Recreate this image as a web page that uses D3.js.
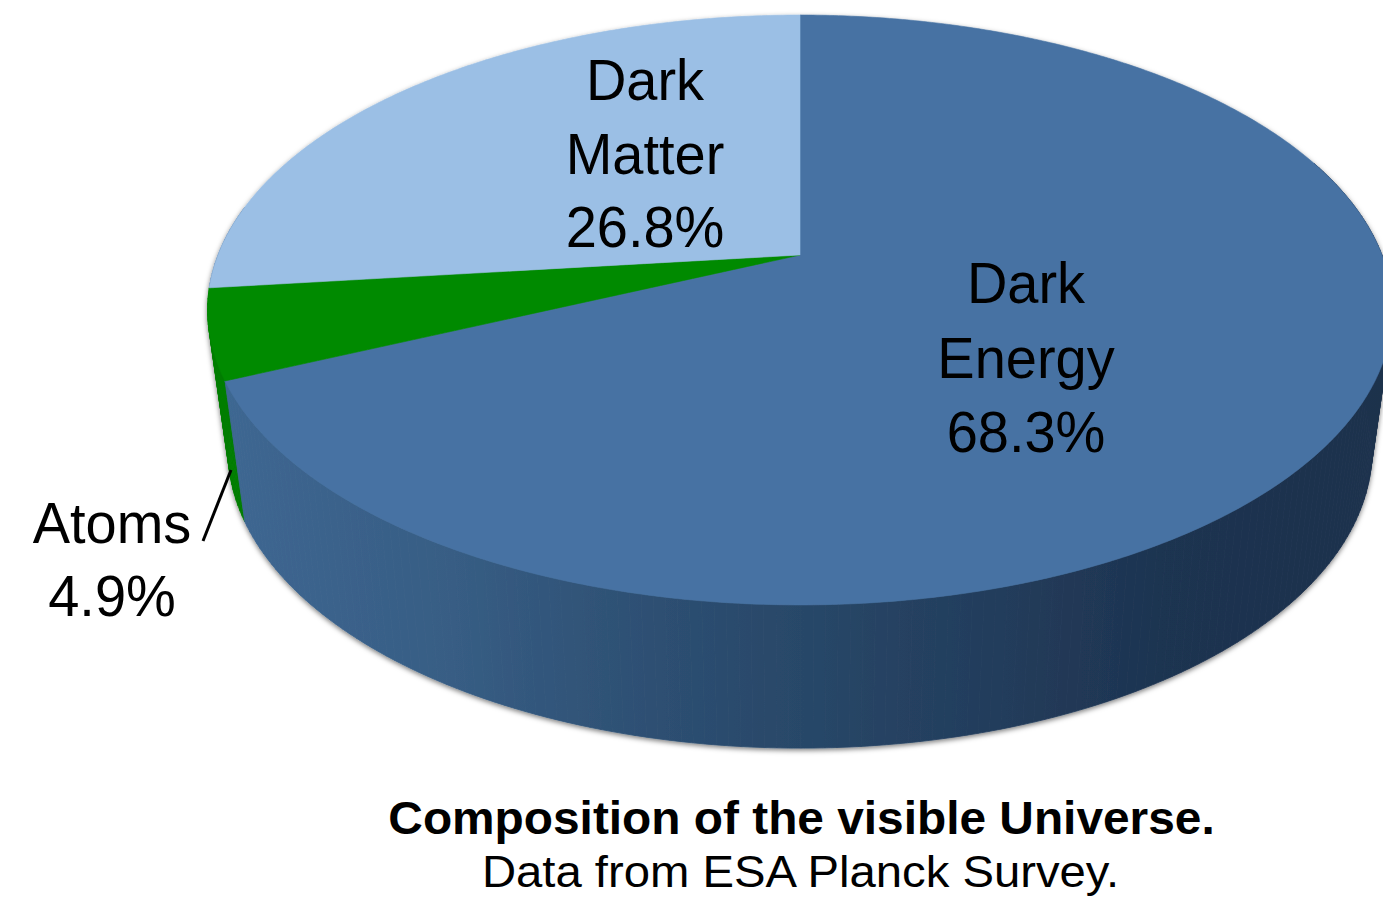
<!DOCTYPE html>
<html>
<head>
<meta charset="utf-8">
<script src="https://cdn.jsdelivr.net/npm/d3@7"></script>
<style>
  html, body { margin: 0; padding: 0; background: #fff; }
  svg { display: block; }
  text { font-family: "Liberation Sans", Arial, Helvetica, sans-serif; fill: #000; }
</style>
</head>
<body>
<svg id="chart" width="1383" height="901"></svg>
<script>
// Composition of the Universe (Planck)
const categories = ["Dark Energy", "Atoms", "Dark Matter"];
const shares = [68.3, 4.9, 26.8];
const topColors = ["#4672a3", "#008a00", "#9bbfe5"];
const titleText = "Composition of the visible Universe.";
const subtitleText = "Data from ESA Planck Survey.";

const svg = d3.select("#chart");
const defs = svg.append("defs");

// Perspective model of the disc: top face and bottom face of the cylinder
const topFace = { cx: 800, cy: 255, a: 582, b: 284.7, k: -0.1864 };
const botFace = { cx: 800, cy: 394.5, a: 562, b: 287.7, k: -0.1864 };

function project(face, theta) {
  const u = Math.sin(theta), v = -Math.cos(theta);
  const w = 1 + face.k * v;
  return [face.cx + face.a * u / w, face.cy + face.b * v / w];
}
function arcPoints(face, a0, a1) {
  const n = Math.max(2, Math.ceil(Math.abs(a1 - a0) / (Math.PI / 360)));
  return d3.range(n + 1).map(i => project(face, a0 + (a1 - a0) * i / n));
}

const data = categories.map((c, i) => ({ name: c, value: shares[i], color: topColors[i] }));
const arcs = d3.pie().sort(null).value(d => d.value)(data);

// side gradient: lighter on the left, dark navy on the right
const grad = defs.append("linearGradient")
  .attr("id", "sideGrad").attr("gradientUnits", "userSpaceOnUse")
  .attr("x1", 220).attr("y1", 0).attr("x2", 1390).attr("y2", 0);
[[0, "#3e6792"], [0.2, "#375d84"], [0.33, "#2f5276"], [0.5, "#284768"],
 [0.67, "#223c5b"], [0.8, "#1e3451"], [1, "#1d314c"]]
  .forEach(([o, c]) => grad.append("stop").attr("offset", o).attr("stop-color", c));

const sideColors = { "Dark Energy": "url(#sideGrad)", "Atoms": "#007d00", "Dark Matter": "#5f82a8" };

const shadow = defs.append("filter").attr("id", "soft")
  .attr("x", "-5%").attr("y", "-5%").attr("width", "110%").attr("height", "115%");
shadow.append("feDropShadow").attr("dx", 0).attr("dy", 2)
  .attr("stdDeviation", 2.5).attr("flood-color", "#000").attr("flood-opacity", 0.5);

const pie = svg.append("g").attr("filter", "url(#soft)");
const line = d3.line();

// side walls: thin convex strips over the visible angular range, painted far to near
const visMin = 70 * Math.PI / 180, visMax = 280 * Math.PI / 180;
const step = Math.PI / 180;
const strips = [];
arcs.forEach(d => {
  const s = Math.max(d.startAngle, visMin), e = Math.min(d.endAngle, visMax);
  if (s >= e) return;
  const n = Math.max(1, Math.ceil((e - s) / step));
  for (let i = 0; i < n; i++) {
    const t0 = s + (e - s) * i / n, t1 = s + (e - s) * (i + 1) / n;
    strips.push({
      name: d.data.name,
      pts: [project(topFace, t0), project(topFace, t1), project(botFace, t1), project(botFace, t0)],
      depth: -Math.cos((t0 + t1) / 2)
    });
  }
});
strips.sort((p, q) => p.depth - q.depth);

pie.selectAll("path.wall").data(strips).join("path")
  .attr("class", "wall")
  .attr("d", w => line(w.pts) + "Z")
  .attr("fill", w => sideColors[w.name])
  .attr("stroke", w => sideColors[w.name])
  .attr("stroke-width", 0.8)
  .attr("stroke-linejoin", "round");

// top face slices
pie.selectAll("path.slice").data(arcs).join("path")
  .attr("class", "slice")
  .attr("d", d => line([[topFace.cx, topFace.cy]].concat(arcPoints(topFace, d.startAngle, d.endAngle))) + "Z")
  .attr("fill", d => d.data.color)
  .attr("stroke", d => d.data.color)
  .attr("stroke-width", 0.6);

// slice labels
const fmt = v => v.toFixed(1) + "%";
const labelLayout = {
  "Dark Matter": { x: 645, y: 100, dy: 73.5 },
  "Dark Energy": { x: 1026, y: 303, dy: 74.5 },
  "Atoms": { x: 112, y: 543, dy: 73 }
};
arcs.forEach(d => {
  const L = labelLayout[d.data.name];
  const lines = d.data.name.split(" ").concat([fmt(d.data.value)]);
  lines.forEach((t, i) => {
    svg.append("text")
      .attr("transform", `translate(${L.x},${L.y + i * L.dy}) scale(0.965,1)`)
      .attr("text-anchor", "middle")
      .attr("font-size", 58)
      .text(t);
  });
});

// leader line for the thin Atoms slice
svg.append("line")
  .attr("x1", 203).attr("y1", 541).attr("x2", 231).attr("y2", 470)
  .attr("stroke", "#000").attr("stroke-width", 3);

// caption
svg.append("text")
  .attr("transform", "translate(801.5,834) scale(1.04,1)")
  .attr("text-anchor", "middle")
  .attr("font-size", 46).attr("font-weight", "bold")
  .text(titleText);
svg.append("text")
  .attr("transform", "translate(800.5,887) scale(1.05,1)")
  .attr("text-anchor", "middle")
  .attr("font-size", 45)
  .text(subtitleText);
</script>
</body>
</html>
